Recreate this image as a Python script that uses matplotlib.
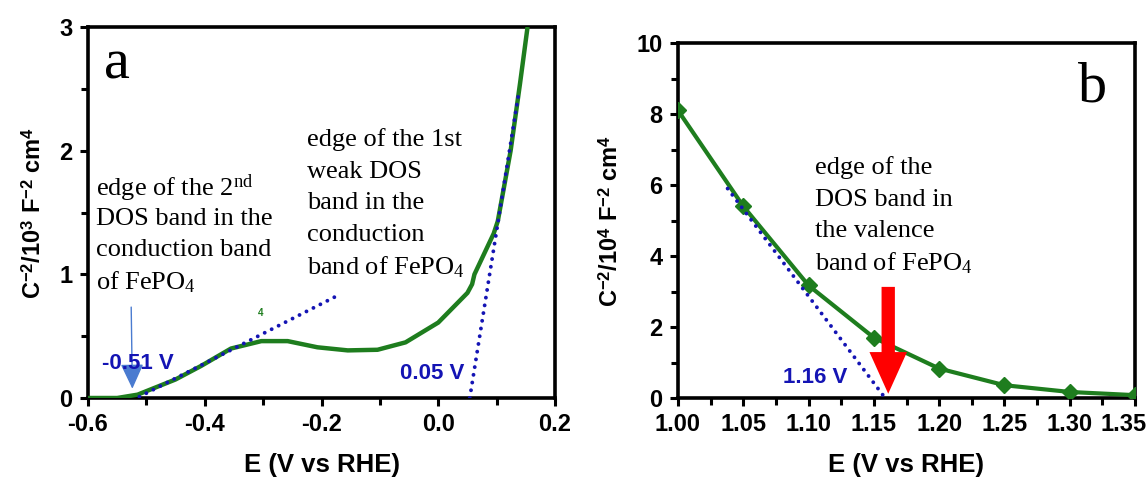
import matplotlib
matplotlib.use("Agg")
import matplotlib.pyplot as plt
from matplotlib.ticker import MultipleLocator

plt.rcParams['font.family'] = ['Liberation Sans', 'DejaVu Sans']
plt.rcParams['mathtext.fontset'] = 'custom'
plt.rcParams['mathtext.rm'] = 'Liberation Serif:weight=normal'
plt.rcParams['mathtext.it'] = 'Liberation Serif:italic'
plt.rcParams['mathtext.bf'] = 'Liberation Sans:bold'

# panel a: Mott-Schottky curve (conduction band side)
E_a = [-0.60, -0.55, -0.515, -0.45, -0.406, -0.355, -0.303, -0.258, -0.207,
       -0.155, -0.104, -0.056, 0.0, 0.05, 0.058, 0.062, 0.095, 0.102, 0.124,
       0.14, 0.153]
C_a = [0.0, 0.0, 0.027, 0.15, 0.26, 0.40, 0.46, 0.46, 0.41,
       0.385, 0.39, 0.45, 0.61, 0.85, 0.92, 1.0, 1.33, 1.43, 2.0,
       2.54, 3.0]
fit1_x = [-0.512, -0.178]
fit1_y = [0.01, 0.815]
fit2_x = [0.054, 0.137]
fit2_y = [0.0, 2.44]

# panel b: valence band side
E_b = [1.00, 1.05, 1.10, 1.15, 1.20, 1.25, 1.30, 1.35]
C_b = [8.10, 5.40, 3.17, 1.70, 0.83, 0.36, 0.17, 0.08]
fitb_x = [1.038, 1.158]
fitb_y = [5.90, 0.03]

green = '#1e7d1e'
blue = '#1414b4'
serif = ['Liberation Serif', 'DejaVu Serif']

fig = plt.figure(figsize=(11.48, 4.8), dpi=100)
ax1 = fig.add_axes([88/1148, 1-398/480, (555-88)/1148, (398-27)/480])
ax2 = fig.add_axes([678/1148, 1-398/480, (1135-678)/1148, (398-43)/480])


def style_axes(ax):
    for sp in ax.spines.values():
        sp.set_linewidth(2.6)
    ax.tick_params(which='both', direction='out', width=2.2, labelsize=17,
                   top=False, right=False)
    ax.tick_params(which='major', length=6, pad=5)
    ax.tick_params(which='minor', length=5)
    for lab in ax.get_xticklabels() + ax.get_yticklabels():
        lab.set_fontweight('bold')


# ---- panel a
ax1.plot(E_a, C_a, color=green, lw=3.2, solid_capstyle='butt', zorder=3)
ax1.plot(fit1_x, fit1_y, color=blue, lw=2.8, linestyle=(0, (0.01, 2.0)),
         dash_capstyle='round', zorder=4)
ax1.plot(fit2_x, fit2_y, color=blue, lw=2.8, linestyle=(0, (0.01, 2.0)),
         dash_capstyle='round', zorder=4)
ax1.set_xlim(-0.6, 0.2)
ax1.set_ylim(0, 3)
ax1.xaxis.set_minor_locator(MultipleLocator(0.1))
ax1.yaxis.set_major_locator(MultipleLocator(1))
ax1.yaxis.set_minor_locator(MultipleLocator(0.5))
ax1.set_xticks([-0.6, -0.4, -0.2, 0.0, 0.2], ['-0.6', '-0.4', '-0.2', '0.0', '0.2'])
style_axes(ax1)
ax1.set_xlabel('E (V vs RHE)', fontsize=18.5, fontweight='bold', labelpad=12)
ax1.set_ylabel(r'C$^{\mathbf{-2}}$/10$^{\mathbf{3}}$ F$^{\mathbf{-2}}$ cm$^{\mathbf{4}}$',
               fontsize=17, fontweight='bold', labelpad=10)

ax1.text(-0.55, 2.70, 'a', family=serif, fontsize=42, ha='center', va='center')
lines1 = ['edge of the 2$^{\\mathrm{nd}}$', 'DOS band in the', 'conduction band',
          'of FePO$_4$']
ys1 = [1.73, 1.47, 1.22, 0.96]
for s, y in zip(lines1, ys1):
    ax1.text(-0.587, y, s, family=serif, fontsize=19,
             ha='left', va='center_baseline')
lines2 = ['edge of the 1st', 'weak DOS', 'band in the', 'conduction',
          'band of FePO$_4$']
ys2 = [2.11, 1.85, 1.60, 1.34, 1.08]
for s, y in zip(lines2, ys2):
    ax1.text(-0.225, y, s, family=serif, fontsize=19,
             ha='left', va='center_baseline')
ax1.text(-0.305, 0.69, '4', color=green, fontsize=7, fontweight='bold',
         ha='center', va='center')
ax1.annotate('', xy=(-0.524, 0.075), xytext=(-0.526, 0.735),
             arrowprops=dict(arrowstyle='-|>,head_length=1.3,head_width=0.6',
                             mutation_scale=12, color='#4a7bd0', lw=1,
                             shrinkA=0, shrinkB=0))
ax1.text(-0.515, 0.277, '-0.51 V', color=blue, fontsize=16, fontweight='bold',
         ha='center', va='center')
ax1.text(-0.011, 0.20, '0.05 V', color=blue, fontsize=16, fontweight='bold',
         ha='center', va='center')

# ---- panel b
ax2.plot(E_b, C_b, color=green, lw=3, marker='D', markersize=8.5,
         zorder=3)
ax2.plot(fitb_x, fitb_y, color=blue, lw=2.8, linestyle=(0, (0.01, 2.0)),
         dash_capstyle='round', zorder=4)
ax2.set_xlim(1.0, 1.35)
ax2.set_ylim(0, 10)
ax2.xaxis.set_minor_locator(MultipleLocator(0.025))
ax2.yaxis.set_major_locator(MultipleLocator(2))
ax2.yaxis.set_minor_locator(MultipleLocator(1))
ax2.set_xticks(E_b, ['%.2f' % v for v in E_b])
style_axes(ax2)
ax2.set_xlabel('E (V vs RHE)', fontsize=18.5, fontweight='bold', labelpad=12)
ax2.set_ylabel(r'C$^{\mathbf{-2}}$/10$^{\mathbf{4}}$ F$^{\mathbf{-2}}$ cm$^{\mathbf{4}}$',
               fontsize=17, fontweight='bold', labelpad=10)

ax2.text(1.3176, 8.76, 'b', family=serif, fontsize=42, ha='center', va='center')
lines3 = ['edge of the', 'DOS band in', 'the valence', 'band of FePO$_4$']
ys3 = [6.55, 5.66, 4.77, 3.88]
for s, y in zip(lines3, ys3):
    ax2.text(1.1047, y, s, family=serif, fontsize=19,
             ha='left', va='center_baseline')
ax2.annotate('', xy=(1.161, 0.12), xytext=(1.161, 3.13),
             arrowprops=dict(arrowstyle='simple,head_length=1.5,head_width=1.35,tail_width=0.48',
                             mutation_scale=20, color='#ff0000', lw=0,
                             shrinkA=0, shrinkB=0), zorder=5)
ax2.text(1.105, 0.59, '1.16 V', color=blue, fontsize=16, fontweight='bold',
         ha='center', va='center')

# last tick label sits at the very edge, as in the original
last = ax2.get_xticklabels()[-1]
last.set_horizontalalignment('right')
last.set_x(1.35)
from matplotlib.transforms import ScaledTranslation
last.set_transform(last.get_transform() + ScaledTranslation(0.12, 0, fig.dpi_scale_trans))

fig.savefig('out.png', dpi=100)
